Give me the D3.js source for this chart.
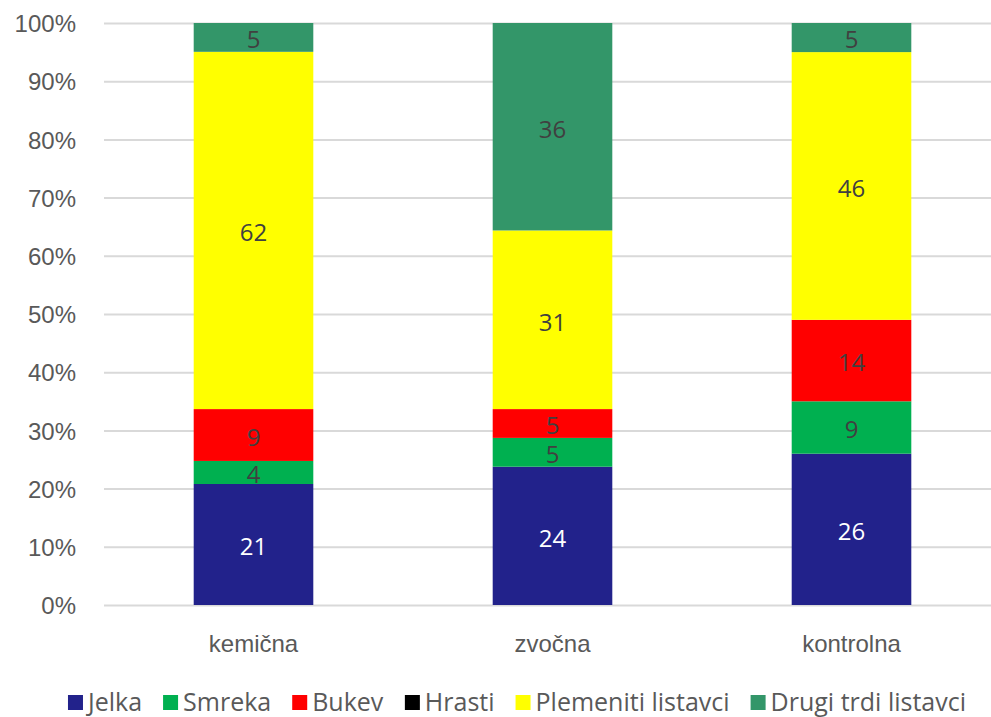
<!DOCTYPE html>
<html>
<head>
<meta charset="utf-8">
<script src="https://cdn.jsdelivr.net/npm/d3@7/dist/d3.min.js"></script>
<style>
  html, body { margin: 0; padding: 0; background: #fff; }
  svg { display: block; font-family: "Open Sans", "Noto Sans", sans-serif; }
</style>
</head>
<body>
<svg id="chart" width="991" height="717"></svg>
<script>
// Stand structure by treatment (share of trees, %)
const categories = ["kemična", "zvočna", "kontrolna"];
const seriesNames = ["Jelka", "Smreka", "Bukev", "Hrasti", "Plemeniti listavci", "Drugi trdi listavci"];
const jelka = [21, 24, 26];
const smreka = [4, 5, 9];
const bukev = [9, 5, 14];
const hrasti = [0, 0, 0];
const plemeniti = [62, 31, 46];
const drugi = [5, 36, 5];
const seriesColors = ["#22228B", "#00B050", "#FF0000", "#000000", "#FFFF00", "#339669"];
const yTicks = [0, 0.1, 0.2, 0.3, 0.4, 0.5, 0.6, 0.7, 0.8, 0.9, 1.0];

const seriesValues = [jelka, smreka, bukev, hrasti, plemeniti, drugi];
const rows = categories.map((c, i) => {
  const r = { cat: c };
  seriesNames.forEach((s, j) => r[s] = seriesValues[j][i]);
  return r;
});

const FS = "24px";
const svg = d3.select("#chart");
const plot = { left: 104, right: 1001, top: 23, bottom: 605 };

const x = d3.scaleBand().domain(categories).range([plot.left, plot.right]).paddingInner(0.6).paddingOuter(0.3);
const y = d3.scaleLinear().domain([0, 1]).range([plot.bottom, plot.top]);

const stack = d3.stack().keys(seriesNames).offset(d3.stackOffsetExpand);
const layers = stack(rows);

// gridlines + y axis labels
const yAxis = d3.axisLeft(y).tickValues(yTicks).tickFormat(d3.format(".0%"))
  .tickSize(-(plot.right - plot.left)).tickPadding(28);
const ga = svg.append("g").attr("transform", `translate(${plot.left},0)`).call(yAxis);
ga.select(".domain").remove();
ga.selectAll(".tick line").attr("stroke", "#d9d9d9").attr("stroke-width", 2);
ga.selectAll(".tick text").attr("fill", "#595959").style("font-size", FS).attr("dy", "0.36em");

// stacked bars
const gBars = svg.append("g");
layers.forEach((layer, li) => {
  gBars.selectAll(null).data(layer).enter().append("rect")
    .attr("x", d => x(d.data.cat))
    .attr("width", x.bandwidth())
    .attr("y", d => y(d[1]))
    .attr("height", d => Math.max(0, y(d[0]) - y(d[1])))
    .attr("fill", seriesColors[li]);
});

// value labels, centred in each segment
layers.forEach((layer, li) => {
  gBars.selectAll(null).data(layer.filter(d => d.data[layer.key] > 0)).enter().append("text")
    .attr("x", d => x(d.data.cat) + x.bandwidth() / 2)
    .attr("y", d => (y(d[0]) + y(d[1])) / 2)
    .attr("dy", "0.45em")
    .attr("text-anchor", "middle")
    .attr("fill", li === 0 ? "#ffffff" : "#404040")
    .style("font-size", FS)
    .text(d => d.data[layer.key]);
});

// category axis labels
const xAxis = d3.axisBottom(x).tickSize(0).tickPadding(30);
const gx = svg.append("g").attr("transform", `translate(0,${plot.bottom})`).call(xAxis);
gx.select(".domain").remove();
gx.selectAll(".tick text").attr("fill", "#595959").style("font-size", FS);

// legend
const legend = svg.append("g").attr("transform", "translate(0,702)");
const items = legend.selectAll("g").data(seriesNames).enter().append("g");
items.append("rect").attr("width", 15).attr("height", 15).attr("y", -7)
  .attr("fill", (d, i) => seriesColors[i]);
items.append("text").attr("x", 20).attr("dy", "0.36em")
  .attr("fill", "#595959").style("font-size", "25px").text(d => d);
let widths = [];
items.each(function () { widths.push(this.getBBox().width); });
const gap = 21;
const total = d3.sum(widths) + gap * (widths.length - 1);
let cx = 517 - total / 2;
items.attr("transform", (d, i) => {
  const t = `translate(${cx},0)`;
  cx += widths[i] + gap;
  return t;
});
</script>
</body>
</html>
